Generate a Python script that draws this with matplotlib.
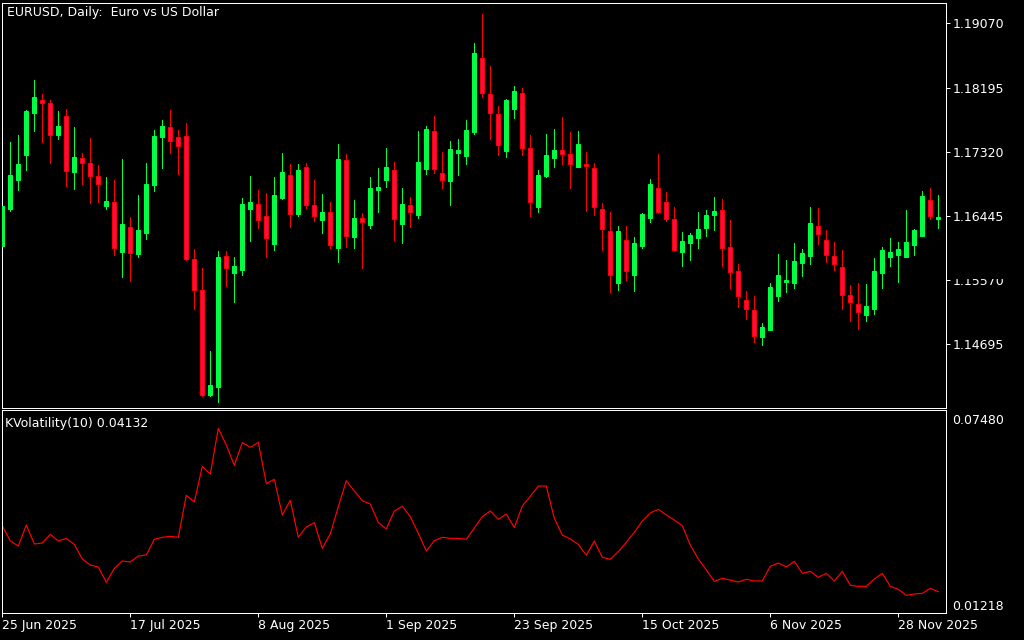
import numpy as np
import pandas as pd
import matplotlib
matplotlib.use('Agg')
import matplotlib.pyplot as plt
from matplotlib.patches import Rectangle

W, H = 1024, 640

# ── EURUSD daily bars ──────────────────────────────────────────────────────
opens = [1.16035, 1.16539, 1.16935, 1.17275, 1.17848, 1.18025, 1.17984, 1.17548, 1.17807, 1.17044,
         1.17234, 1.17166, 1.16989, 1.16580, 1.16635, 1.15953, 1.16294, 1.15926, 1.16212, 1.16866,
         1.17521, 1.17657, 1.17521, 1.17534, 1.15858, 1.15435, 1.14004, 1.14113, 1.15899, 1.15667,
         1.15708, 1.16539, 1.16607, 1.16444, 1.16062, 1.16689, 1.17003, 1.16471, 1.17112, 1.16594,
         1.16389, 1.16498, 1.16008, 1.17207, 1.16158, 1.16417, 1.16321, 1.16798, 1.16935, 1.17071,
         1.16335, 1.16594, 1.16458, 1.17085, 1.17603, 1.17030, 1.16921, 1.17303, 1.17262, 1.17589,
         1.18597, 1.18107, 1.17834, 1.17330, 1.17902, 1.18120, 1.17371, 1.16567, 1.16989, 1.17234,
         1.17343, 1.17289, 1.17112, 1.17153, 1.17098, 1.16539, 1.16239, 1.15531, 1.16117, 1.15640,
         1.16035, 1.16417, 1.16824, 1.16635, 1.16403, 1.15953, 1.16076, 1.16144, 1.16280, 1.16458,
         1.16526, 1.16021, 1.15694, 1.15299, 1.15163, 1.14795, 1.14890, 1.15353, 1.15544, 1.15531,
         1.15803, 1.15899, 1.16308, 1.16117, 1.15899, 1.15749, 1.15367, 1.15244, 1.15095, 1.15176,
         1.15667, 1.15885, 1.15912, 1.15885, 1.16049, 1.16171, 1.16662, 1.16403]

highs = [1.16594, 1.17453, 1.17548, 1.17889, 1.18298, 1.18107, 1.18025, 1.17875, 1.17902, 1.17657,
         1.17303, 1.17507, 1.17139, 1.16975, 1.16935, 1.17221, 1.16430, 1.16730, 1.17166, 1.17616,
         1.17752, 1.17889, 1.17616, 1.17712, 1.15994, 1.15735, 1.14604, 1.15967, 1.15967, 1.15885,
         1.16689, 1.16989, 1.16798, 1.16757, 1.16975, 1.17303, 1.17153, 1.17153, 1.17166, 1.16935,
         1.16746, 1.16635, 1.17425, 1.17289, 1.16662, 1.16485, 1.16975, 1.17098, 1.17371, 1.17180,
         1.16824, 1.16703, 1.17603, 1.17671, 1.17807, 1.17316, 1.17466, 1.17493, 1.17752, 1.18802,
         1.19197, 1.18488, 1.17940, 1.18039, 1.18216, 1.18189, 1.17548, 1.17071, 1.17562, 1.17630,
         1.17793, 1.17589, 1.17603, 1.17316, 1.17166, 1.16621, 1.16498, 1.16308, 1.16308, 1.16158,
         1.16485, 1.16948, 1.17289, 1.16771, 1.16567, 1.16226, 1.16212, 1.16498, 1.16526, 1.16703,
         1.16676, 1.16389, 1.15790, 1.15422, 1.15353, 1.14985, 1.15531, 1.15926, 1.15844, 1.16076,
         1.15994, 1.16567, 1.16553, 1.16253, 1.16090, 1.15980, 1.15503, 1.15531, 1.15517, 1.15871,
         1.16021, 1.16144, 1.16090, 1.16526, 1.16267, 1.16785, 1.16824, 1.16730]

lows = [1.16021, 1.16512, 1.16798, 1.17071, 1.17603, 1.17453, 1.17166, 1.17493, 1.16853, 1.16812,
        1.16880, 1.16621, 1.16635, 1.16539, 1.15912, 1.15612, 1.15558, 1.15885, 1.16130, 1.16785,
        1.17098, 1.17303, 1.17016, 1.15844, 1.15176, 1.13991, 1.13991, 1.13909, 1.15490, 1.15272,
        1.15640, 1.16103, 1.16280, 1.15885, 1.15980, 1.16676, 1.16294, 1.16444, 1.16553, 1.16376,
        1.16212, 1.16008, 1.15817, 1.16021, 1.16008, 1.15735, 1.16280, 1.16498, 1.16839, 1.16117,
        1.16076, 1.16294, 1.16417, 1.17016, 1.17030, 1.16824, 1.16594, 1.17003, 1.17153, 1.17562,
        1.18066, 1.17493, 1.17275, 1.17248, 1.17780, 1.17275, 1.16444, 1.16498, 1.16975, 1.17112,
        1.17153, 1.16824, 1.17112, 1.16512, 1.16458, 1.15980, 1.15408, 1.15435, 1.15572, 1.15422,
        1.16008, 1.16362, 1.16485, 1.16376, 1.15967, 1.15762, 1.15844, 1.16008, 1.16171, 1.16253,
        1.15762, 1.15463, 1.15204, 1.15040, 1.14727, 1.14686, 1.14890, 1.15285, 1.15408, 1.15463,
        1.15626, 1.15790, 1.16062, 1.15817, 1.15708, 1.15176, 1.15013, 1.14904, 1.15013, 1.15108,
        1.15463, 1.15762, 1.15544, 1.15885, 1.15912, 1.16171, 1.16403, 1.16280]

closes = [1.16580, 1.17003, 1.17153, 1.17875, 1.18066, 1.17984, 1.17548, 1.17671, 1.17057, 1.17248,
          1.17166, 1.16989, 1.16880, 1.16648, 1.16008, 1.16335, 1.15940, 1.16253, 1.16880, 1.17534,
          1.17671, 1.17466, 1.17398, 1.15858, 1.15435, 1.14004, 1.14140, 1.15885, 1.15735, 1.15762,
          1.16607, 1.16635, 1.16389, 1.16144, 1.16730, 1.17044, 1.16471, 1.17071, 1.16594, 1.16444,
          1.16498, 1.16049, 1.17221, 1.16171, 1.16417, 1.16362, 1.16824, 1.16839, 1.17112, 1.16403,
          1.16607, 1.16498, 1.17180, 1.17630, 1.17085, 1.16935, 1.17357, 1.17343, 1.17616, 1.18666,
          1.18120, 1.17848, 1.17412, 1.18025, 1.18148, 1.17371, 1.16635, 1.17003, 1.17275, 1.17343,
          1.17289, 1.17153, 1.17425, 1.17125, 1.16567, 1.16267, 1.15640, 1.16239, 1.15694, 1.16076,
          1.16471, 1.16880, 1.16498, 1.16403, 1.15980, 1.16103, 1.16185, 1.16267, 1.16458, 1.16512,
          1.16008, 1.15681, 1.15353, 1.15176, 1.14808, 1.14931, 1.15476, 1.15640, 1.15572, 1.15831,
          1.15940, 1.16349, 1.16199, 1.15912, 1.15790, 1.15367, 1.15272, 1.15135, 1.15217, 1.15694,
          1.15980, 1.15953, 1.15994, 1.16090, 1.16253, 1.16717, 1.16444, 1.16430]

# KVolatility(10)
kvol = [0.03877, 0.03372, 0.03204, 0.03911, 0.03271, 0.03305, 0.03597, 0.03372, 0.03462, 0.03260,
        0.02766, 0.02564, 0.02497, 0.01981, 0.02452, 0.02699, 0.02665, 0.02867, 0.02901, 0.03429,
        0.03496, 0.03530, 0.03496, 0.04910, 0.04686, 0.05886, 0.05628, 0.07166, 0.06605, 0.05920,
        0.06683, 0.06526, 0.06694, 0.05303, 0.05449, 0.04248, 0.04742, 0.03496, 0.03844, 0.03990,
        0.03126, 0.03608, 0.04528, 0.05404, 0.05056, 0.04730, 0.04618, 0.04001, 0.03776, 0.04383,
        0.04540, 0.04192, 0.03631, 0.03036, 0.03384, 0.03496, 0.03462, 0.03462, 0.03429, 0.03810,
        0.04192, 0.04383, 0.04102, 0.04282, 0.03821, 0.04551, 0.04876, 0.05224, 0.05224, 0.04136,
        0.03574, 0.03440, 0.03260, 0.02890, 0.03372, 0.02823, 0.02755, 0.03013, 0.03328, 0.03664,
        0.04046, 0.04315, 0.04439, 0.04248, 0.04080, 0.03889, 0.03238, 0.02766, 0.02396, 0.02014,
        0.02115, 0.02059, 0.01992, 0.02082, 0.02026, 0.02026, 0.02520, 0.02632, 0.02497, 0.02688,
        0.02284, 0.02351, 0.02149, 0.02284, 0.02026, 0.02351, 0.01880, 0.01846, 0.01846, 0.02093,
        0.02284, 0.01846, 0.01745, 0.01543, 0.01588, 0.01610, 0.01779, 0.01667]

price_ticks = [1.14695, 1.15570, 1.16445, 1.17320, 1.18195, 1.19070]
vol_ticks = [0.07480, 0.01218]
dates = pd.bdate_range('2025-06-25', periods=len(opens))

TITLE = 'EURUSD, Daily:  Euro vs US Dollar'
IND_LABEL = 'KVolatility(10) 0.04132'

BULL = '#00ff40'
BEAR_FILL = '#ff0a50'
BEAR_EDGE = '#ff0000'
PX = 0.72  # one pixel in points
FS = 9

plt.rcParams['font.family'] = ['DejaVu Sans']

o = np.array(opens); h = np.array(highs); l = np.array(lows); c = np.array(closes)
x = np.arange(len(o))
up = c >= o

fig = plt.figure(figsize=(W / 100, H / 100), dpi=100, facecolor='black')

def px_axes(left, top, right, bottom):
    return fig.add_axes([left / W, 1 - bottom / H, (right - left) / W, (bottom - top) / H])

# ── price panel ─────────────────────────────────────────────────────────────
ax = px_axes(2.3, 2.5, 946.3, 408)
ax.set_facecolor('black')
wick_cols = np.where(up, BULL, BEAR_EDGE)
ax.vlines(x, l, h, colors=wick_cols, linewidth=PX, zorder=2, antialiased=False)
ax.bar(x[up], (c - o)[up], bottom=o[up], width=0.5, color=BULL, edgecolor=BULL,
       linewidth=PX, zorder=3)
ax.bar(x[~up], (o - c)[~up], bottom=c[~up], width=0.5, color=BEAR_FILL, edgecolor=BEAR_EDGE,
       linewidth=PX, zorder=3)
ax.set_xlim(0, 118)
ax.set_ylim(1.13827, 1.19354)
ax.set_yticks(price_ticks)
ax.set_yticklabels([f'{t:.5f}' for t in price_ticks])
ax.yaxis.tick_right()
ax.tick_params(axis='y', direction='out', length=2.9, width=PX, colors='white',
               labelsize=FS, pad=1.4)
ax.tick_params(axis='x', bottom=False, labelbottom=False)
for s in ax.spines.values():
    s.set_color('white'); s.set_linewidth(PX)
ax.text(0.005, 0.975, TITLE, transform=ax.transAxes, color='white', fontsize=FS,
        ha='left', va='center')

# ── indicator panel ─────────────────────────────────────────────────────────
ax2 = px_axes(2.3, 410, 946.3, 613)
ax2.set_facecolor('black')
ax2.plot(x, kvol, color='#ff0000', linewidth=PX * 1.2)
ax2.set_xlim(0, 118)
ax2.set_ylim(0.00948, 0.07783)
ax2.set_yticks(vol_ticks)
ax2.set_yticklabels([f'{t:.5f}' for t in vol_ticks])
ax2.yaxis.tick_right()
ax2.tick_params(axis='y', length=0, colors='white', labelsize=FS, pad=4.1)
tick_idx = x[::16]
ax2.set_xticks(tick_idx)
ax2.set_xticklabels([f'{dates[i].day} {dates[i].strftime("%b %Y")}' for i in tick_idx],
                    ha='left')
ax2.tick_params(axis='x', direction='out', length=2.9, width=PX, colors='white',
                labelsize=FS, pad=1.5)
for s in ax2.spines.values():
    s.set_color('white'); s.set_linewidth(PX)
ax2.text(0.003, 0.935, IND_LABEL, transform=ax2.transAxes, color='white', fontsize=FS,
         ha='left', va='center')

# the 1.15570 label is half hidden in the terminal
fig.patches.append(Rectangle((948 / W, 1 - 279 / H), (W - 948) / W, 10 / H,
                             transform=fig.transFigure, facecolor='black',
                             edgecolor='none', zorder=10))

fig.savefig('out.png', dpi=100, facecolor='black')
